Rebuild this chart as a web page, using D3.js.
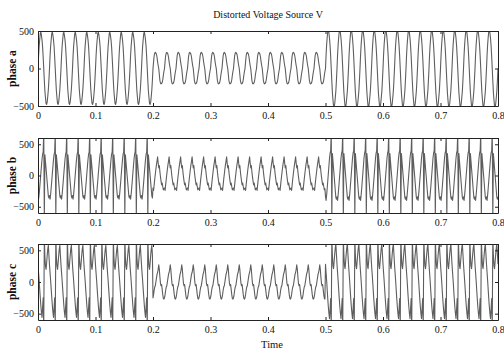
<!DOCTYPE html>
<html>
<head>
<meta charset="utf-8">
<script src="https://cdn.jsdelivr.net/npm/d3@7"></script>
<style>
  html, body { margin: 0; padding: 0; background: #fff; }
  svg text { font-family: "Liberation Serif", "DejaVu Serif", serif; fill: #111; }
</style>
</head>
<body>
<div id="chart"></div>
<script>
// Time axis: 50 Hz source, waveform sampled every 1 ms (20 samples per cycle)
const segmentBounds = [0, 0.2, 0.5, 0.8];
const samplePeriod = 0.001;
const xTicks = [0, 0.1, 0.2, 0.3, 0.4, 0.5, 0.6, 0.7, 0.8];
const yTicks = [-500, 0, 500];
const phaseNames = ["phase a", "phase b", "phase c"];

// One cycle of each phase in each interval (V), starting at the interval start
const phaseA1 = [0, 170, 300, 390, 470, 485, 440, 380, 290, 150, 0, -160, -300, -390, -465, -480, -445, -370, -280, -150];
const phaseA2 = [0, 90, 170, 205, 215, 205, 190, 150, 90, 40, 0, -80, -160, -195, -205, -200, -185, -150, -90, -40];
const phaseA3 = [0, 180, 320, 420, 500, 520, 470, 400, 300, 160, 0, -170, -320, -420, -500, -515, -470, -390, -300, -160];

const phaseB1 = [-320, -380, -300, -190, -80, 40, 150, 260, 340, 380, 700, -700, 330, 220, 110, 0, -110, -220, -330, -360];
const phaseB2 = [-200, -240, -150, -60, 20, 100, 170, 230, 300, 200, 120, 160, 60, -20, -90, -150, -120, -180, -230, -210];
const phaseB3 = [-340, -400, -310, -200, -80, 40, 160, 280, 360, 400, 700, -700, 350, 230, 110, 0, -120, -240, -350, -380];

const phaseC1 = [270, 140, 20, -120, -250, -380, -480, -560, -400, -250, -700, 700, 400, 250, 200, 300, 420, 520, 580, 420];
const phaseC2 = [-250, -200, -130, -80, -60, 0, 60, 120, 150, 200, 270, 200, 80, -20, -60, -40, -120, -200, -260, -270];
const phaseC3 = [280, 150, 20, -130, -270, -400, -500, -580, -420, -260, -700, 700, 420, 260, 210, 320, 440, 540, 600, 440];

const phaseCycles = [
  [phaseA1, phaseA2, phaseA3],
  [phaseB1, phaseB2, phaseB3],
  [phaseC1, phaseC2, phaseC3]
];
const yDomains = [[-500, 500], [-600, 600], [-600, 600]];

// Build each phase trace by repeating its cycle over each interval
function buildTrace(cycles) {
  const pts = [];
  for (let s = 0; s < cycles.length; s++) {
    const t0 = segmentBounds[s], t1 = segmentBounds[s + 1];
    const n = Math.round((t1 - t0) / samplePeriod);
    const cyc = cycles[s];
    for (let i = 0; i < n; i++) {
      pts.push({ t: t0 + i * samplePeriod, v: cyc[i % cyc.length] });
    }
  }
  pts.push({ t: segmentBounds[segmentBounds.length - 1], v: cycles[cycles.length - 1][0] });
  return pts;
}

const W = 504, H = 351;
const svg = d3.select("#chart").append("svg").attr("width", W).attr("height", H);

const left = 38, right = 498;
const panels = [
  { top: 31, bottom: 106 },
  { top: 138, bottom: 213 },
  { top: 244, bottom: 320 }
];

const x = d3.scaleLinear().domain([0, 0.8]).range([left, right]);

svg.append("text")
  .attr("x", 268).attr("y", 18)
  .attr("text-anchor", "middle")
  .style("font-size", "10px")
  .text("Distorted Voltage Source V");

panels.forEach((p, i) => {
  const y = d3.scaleLinear().domain(yDomains[i]).range([p.bottom, p.top]);
  const g = svg.append("g");

  const clipId = "clip" + i;
  svg.append("clipPath").attr("id", clipId)
    .append("rect").attr("x", left).attr("y", p.top)
    .attr("width", right - left).attr("height", p.bottom - p.top);

  const line = d3.line().x(d => x(d.t)).y(d => y(d.v));
  g.append("path")
    .datum(buildTrace(phaseCycles[i]))
    .attr("clip-path", `url(#${clipId})`)
    .attr("fill", "none")
    .attr("stroke", "#5e5e5e")
    .attr("stroke-width", 1.1)
    .attr("stroke-linejoin", "round")
    .attr("d", line);

  // Box frame with inward ticks on all sides
  const bottomAx = d3.axisBottom(x).tickValues(xTicks).tickSizeInner(-3).tickSizeOuter(0)
    .tickPadding(6).tickFormat(d => d === 0 ? "0" : d3.format(".1f")(d));
  const ba = g.append("g").attr("transform", `translate(0,${p.bottom})`).call(bottomAx);
  ba.selectAll("text").style("font-size", "10px");

  const topAx = d3.axisTop(x).tickValues(xTicks).tickSizeInner(-3).tickSizeOuter(0).tickFormat("");
  g.append("g").attr("transform", `translate(0,${p.top})`).call(topAx);

  const leftAx = d3.axisLeft(y).tickValues(yTicks).tickSizeInner(-3).tickSizeOuter(0).tickPadding(4);
  const la = g.append("g").attr("transform", `translate(${left},0)`).call(leftAx);
  la.selectAll("text").style("font-size", "10px");

  const rightAx = d3.axisRight(y).tickValues(yTicks).tickSizeInner(-3).tickSizeOuter(0).tickFormat("");
  g.append("g").attr("transform", `translate(${right},0)`).call(rightAx);

  g.selectAll(".domain").attr("stroke", "#222");
  g.selectAll(".tick line").attr("stroke", "#222");

  g.append("text")
    .attr("transform", `translate(16,${(p.top + p.bottom) / 2}) rotate(-90)`)
    .attr("text-anchor", "middle")
    .style("font-size", "11.5px")
    .style("font-weight", "bold")
    .text(phaseNames[i]);
});

svg.append("text")
  .attr("x", 272).attr("y", 348)
  .attr("text-anchor", "middle")
  .style("font-size", "10.5px")
  .text("Time");
</script>
</body>
</html>
